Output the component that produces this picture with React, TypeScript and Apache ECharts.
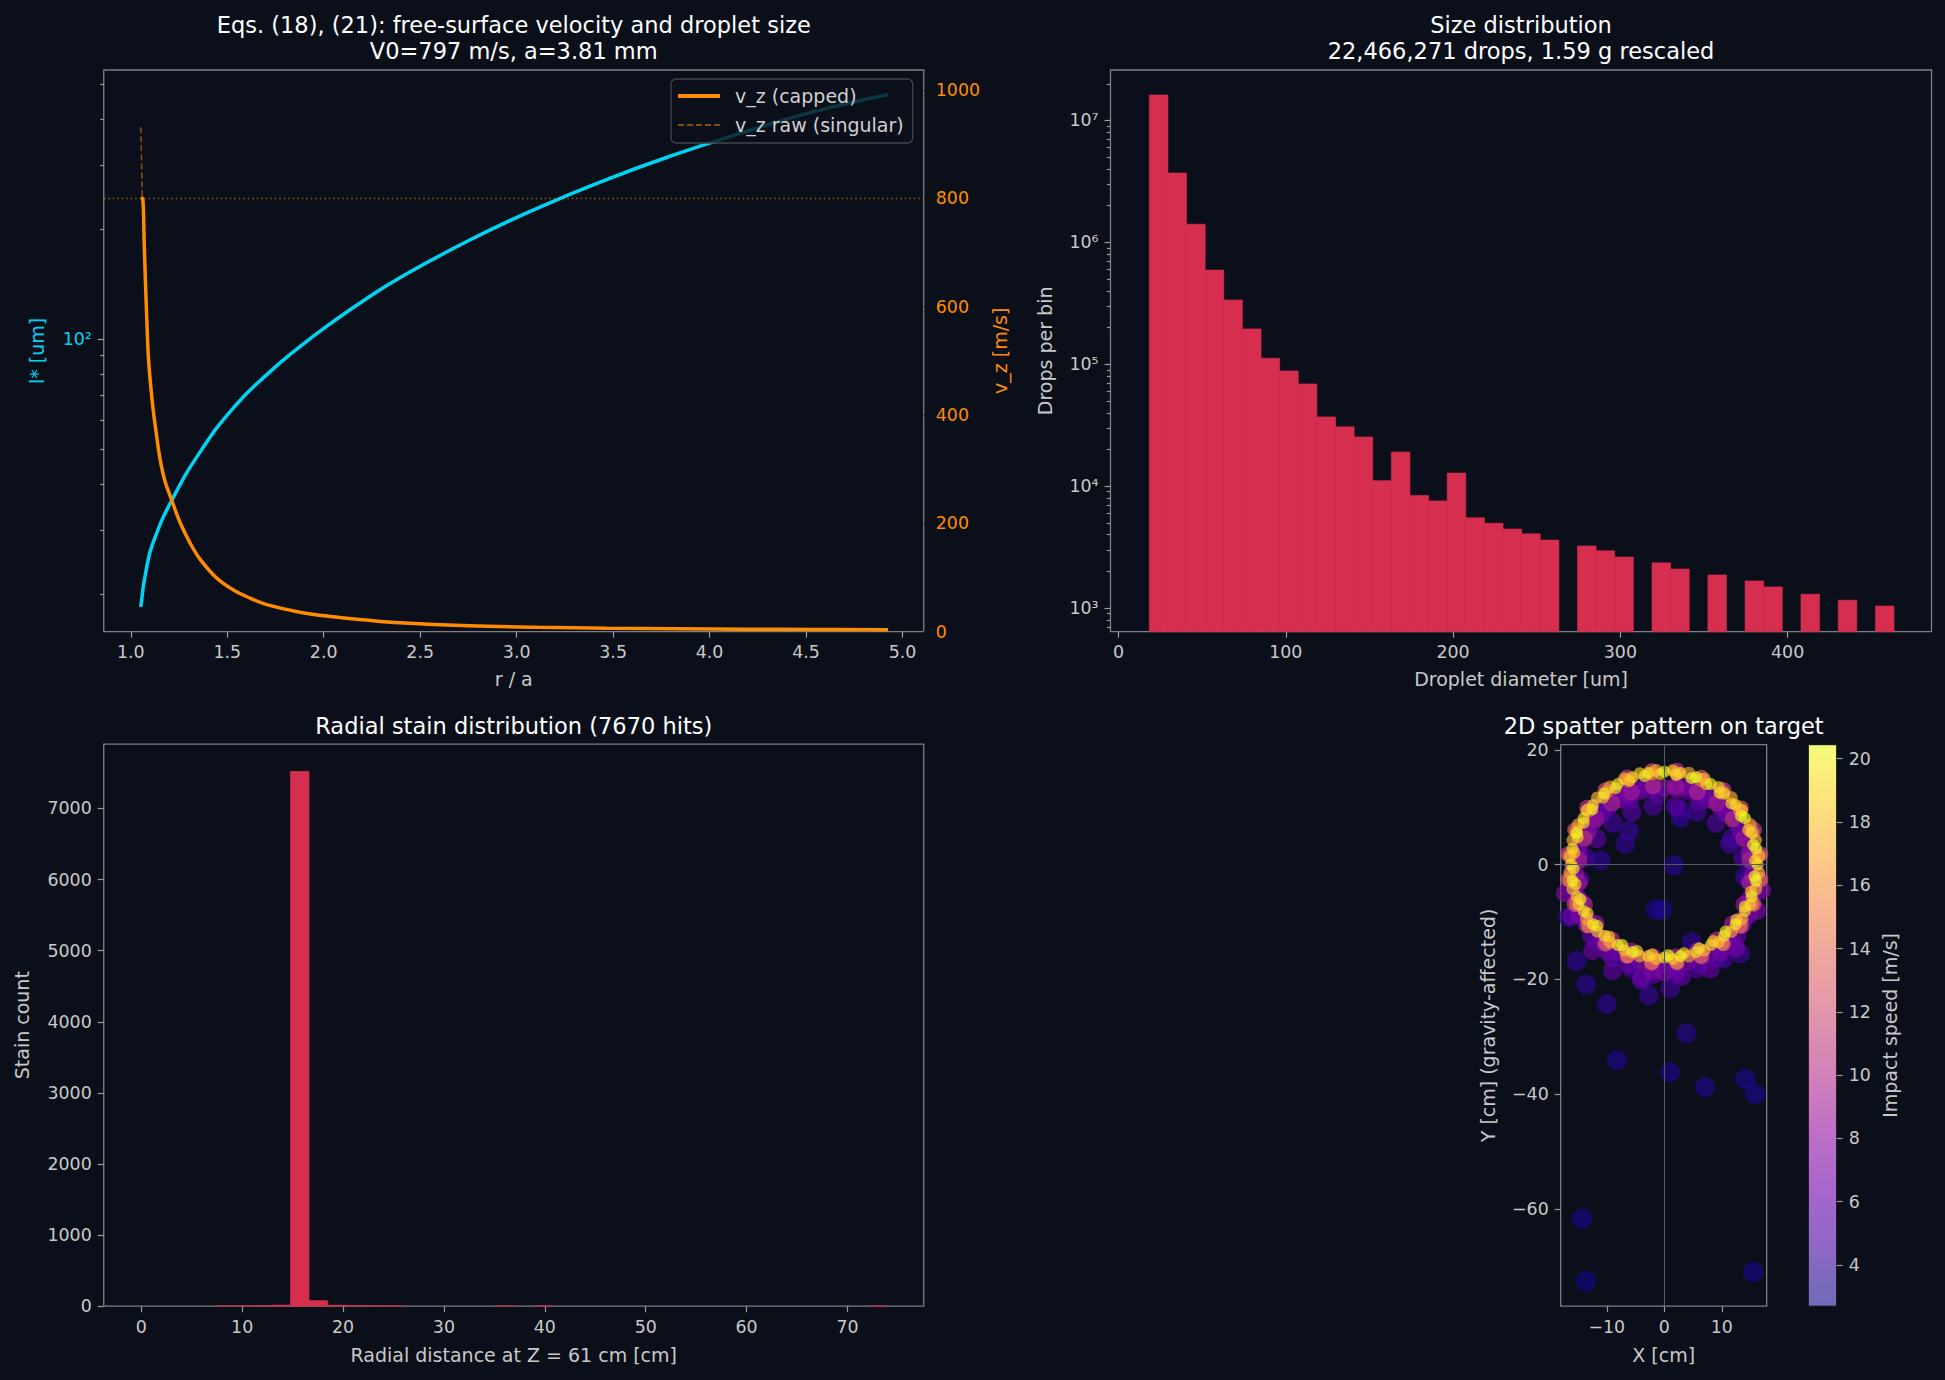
import React, { useEffect, useRef } from "react";
import * as echarts from "echarts";

// ---------------- Panel 1: Eqs. (18), (21) ----------------
const LSTAR_R_OVER_A = [1.052, 1.083, 1.126, 1.212, 1.359, 1.532, 1.705, 1.877, 2.05, 2.223, 2.395, 2.752, 3.109, 3.466, 3.823, 4.18, 4.536, 4.925];
const LSTAR_UM = [18.45, 23.8, 28.6, 36.1, 49.0, 64.8, 79.9, 95.3, 111.7, 129.1, 147.2, 186.2, 228.5, 273.5, 320.6, 369, 419.3, 467.7];
const VZ_R_OVER_A = [1.052, 1.06, 1.071, 1.076, 1.083, 1.091, 1.103, 1.117, 1.135, 1.152, 1.178, 1.212, 1.255, 1.307, 1.359, 1.445, 1.532, 1.618, 1.705, 1.877, 2.05, 2.223, 2.395, 2.752, 3.109, 3.466, 3.823, 4.18, 4.536, 4.925];
const VZ_CAPPED = [800, 800, 701, 646, 578, 509, 455, 407, 359, 318, 277, 243, 202, 164, 134, 99, 77, 62, 50, 36, 27.5, 21.4, 16.6, 11, 8, 6.5, 5.5, 4.7, 4.1, 3.6];
const VZ_RAW = [931, 800, 701, 646, 578, 509, 455, 407, 359, 318, 277, 243, 202, 164, 134, 99, 77, 62, 50, 36, 27.5, 21.4, 16.6, 11, 8, 6.5, 5.5, 4.7, 4.1, 3.6];
const VZ_CAP_LEVEL = 800;
const P1_X_TICKS = [1.0, 1.5, 2.0, 2.5, 3.0, 3.5, 4.0, 4.5, 5.0];
const P1_VZ_TICKS = [0, 200, 400, 600, 800, 1000];
const P1_LSTAR_MAJOR = [100];
const P1_LSTAR_MINOR = [20, 30, 40, 50, 60, 70, 80, 90, 200, 300, 400, 500];

// ---------------- Panel 2: size distribution ----------------
const DIAM_MIN = 18.4;
const DIAM_MAX = 463.6;
const DROPS_PER_BIN = [
  1.62e7, 3.7e6, 1.41e6, 5.93e5, 3.37e5, 1.95e5, 1.12e5, 8.81e4, 6.9e4, 3.7e4,
  3.07e4, 2.53e4, 1.11e4, 1.91e4, 8.38e3, 7.57e3, 1.28e4, 5.5e3, 4.97e3, 4.45e3,
  4.06e3, 3.61e3, 0, 3.23e3, 2.95e3, 2.62e3, 0, 2.35e3, 2.09e3, 0,
  1.87e3, 0, 1.67e3, 1.49e3, 0, 1.3e3, 0, 1.16e3, 0, 1.04e3,
];
const P2_X_TICKS = [0, 100, 200, 300, 400];
const P2_Y_MAJOR = [1e3, 1e4, 1e5, 1e6, 1e7];

// ---------------- Panel 3: radial stain distribution ----------------
const RADIAL_MIN = 0;
const RADIAL_MAX = 73.9;
const STAIN_COUNTS = [
  0, 0, 0, 0, 3, 5, 8, 16, 7522, 79,
  14, 9, 6, 4, 0, 0, 0, 0, 0, 1,
  0, 2, 0, 0, 0, 0, 0, 0, 0, 0,
  0, 0, 0, 0, 0, 0, 0, 0, 0, 1,
];
const P3_X_TICKS = [0, 10, 20, 30, 40, 50, 60, 70];
const P3_Y_TICKS = [0, 1000, 2000, 3000, 4000, 5000, 6000, 7000];

// ---------------- Panel 4: 2D spatter pattern [x cm, y cm, impact speed m/s] ----------------
const OUTLIERS = [
  [-14.26, -61.7, 3.1], [-13.62, -72.6, 2.7], [15.48, -71.0, 3.1], [14.09, -37.4, 3.3], [15.83, -40.0, 3.2],
  [7.07, -38.8, 3.3], [1.04, -36.2, 3.4], [-8.24, -34.1, 3.4], [3.83, -29.4, 3.6], [-10.0, -24.3, 3.9],
  [-2.7, -22.8, 4.2], [-13.57, -20.9, 3.8], [-15.25, -16.8, 3.9], [-1.5, -7.85, 3.2], [-0.4, -7.85, 3.3],
  [1.62, -0.15, 3.6], [-11.07, 0.75, 3.9], [-6.78, 3.6, 4.0], [-6.14, 5.9, 4.1], [2.85, 8.15, 4.0],
  [2.7, 9.6, 4.2], [-16.7, -9.2, 3.8], [4.75, -13.5, 3.9], [14.03, -2.1, 4.2], [11.4, 3.6, 4.4],
  [-3.9, -20.2, 4.6], [1.0, -21.6, 4.5], [10.3, -16.4, 4.8], [13.2, -15.5, 4.6],
];
const DARK_HALO = [
  [14.67, -2.56, 4.8], [13.67, 1.17, 5.3], [11.74, 4.51, 4.6], [9.01, 7.24, 5.1], [5.67, 9.17, 4.4], [1.94, 10.17, 5.5],
  [-1.94, 10.17, 4.9], [-5.67, 9.17, 5.2], [-9.01, 7.24, 4.5], [-11.74, 4.51, 5.4], [-13.67, 1.17, 4.7], [-14.67, -2.56, 5.0],
  [-14.67, -6.44, 4.6], [-13.67, -10.17, 5.3], [-11.74, -13.51, 4.4], [-9.01, -16.24, 5.1], [-5.67, -18.17, 4.8], [-1.94, -19.17, 5.4],
  [1.94, -19.17, 4.5], [5.67, -18.17, 5.0], [9.01, -16.24, 4.7], [11.74, -13.51, 5.3], [13.67, -10.17, 4.6], [14.67, -6.44, 5.2],
];
const PURPLE_HALO = [
  [15.4, -2, 7.8], [14.88, 1.99, 8.4], [13.34, 5.7, 7.1], [10.89, 8.89, 6.6], [7.7, 11.34, 7.4], [3.99, 12.88, 6.2],
  [0, 13.4, 8.1], [-3.99, 12.88, 6.9], [-7.7, 11.34, 7.6], [-10.89, 8.89, 6.4], [-13.34, 5.7, 8.2], [-14.88, 1.99, 7.3],
  [-15.4, -2, 8.6], [-14.88, -5.99, 7.0], [-13.34, -9.7, 6.5], [-10.89, -12.89, 7.7], [-7.7, -15.34, 6.3], [-3.99, -16.88, 7.9],
  [0, -17.4, 6.8], [3.99, -16.88, 7.2], [7.7, -15.34, 6.1], [10.89, -12.89, 7.5], [13.34, -9.7, 8.0], [14.88, -5.99, 6.7],
  [-8, 12.5, 7.0], [-4, 13.8, 6.5], [4, 13.6, 7.2], [8, 12.2, 6.8], [-11.5, 10, 6.2], [11.5, 9.8, 6.6],
  [-1, 12.2, 5.8], [6, 11, 5.5], [-6, 11.2, 5.4], [-9, -18.5, 6.0], [-4, -19.8, 6.4], [3, -19.5, 6.1],
  [8, -18.2, 6.3], [12.5, -14.5, 6.8], [-12.5, -15, 6.5], [0, -18.8, 7.0], [-17.3, -5, 7.5], [17.0, -4.5, 7.2],
  [16.2, -8, 6.9], [-16.2, -9, 6.7],
];
const PURPLE_BAND = [
  [15.86, -0.51, 6.4], [14.78, 3.52, 7.0], [12.69, 7.14, 5.9], [9.74, 10.09, 6.7], [6.12, 12.18, 6.1], [2.09, 13.26, 7.3],
  [-2.09, 13.26, 6.0], [-6.12, 12.18, 6.8], [-9.74, 10.09, 5.8], [-12.69, 7.14, 7.1], [-14.78, 3.52, 6.3], [-15.86, -0.51, 6.9],
  [-15.86, -4.69, 6.2], [-14.78, -8.72, 7.2], [-12.69, -12.34, 5.9], [-9.74, -15.29, 6.6], [-6.12, -17.38, 6.1], [-2.09, -18.46, 7.0],
  [2.09, -18.46, 6.4], [6.12, -17.38, 5.8], [9.74, -15.29, 6.9], [12.69, -12.34, 6.2], [14.78, -8.72, 7.1], [15.86, -4.69, 6.5],
];
const MAGENTA_BAND = [
  [14.87, 0.76, 9.4], [13.86, 4.54, 8.6], [11.9, 7.93, 10.2], [9.13, 10.7, 8.9], [5.74, 12.66, 9.8], [1.96, 13.67, 8.4],
  [-1.96, 13.67, 10.0], [-5.74, 12.66, 8.7], [-9.13, 10.7, 9.5], [-11.9, 7.93, 8.3], [-13.86, 4.54, 10.4], [-14.87, 0.76, 9.1],
  [-14.87, -3.16, 8.8], [-13.86, -6.94, 9.9], [-11.9, -10.33, 8.5], [-9.13, -13.1, 10.1], [-5.74, -15.06, 9.2], [-1.96, -16.07, 8.6],
  [1.96, -16.07, 9.7], [5.74, -15.06, 8.8], [9.13, -13.1, 10.3], [11.9, -10.33, 9.0], [13.86, -6.94, 8.4], [14.87, -3.16, 9.6],
];
const PINK_OUTER = [
  [16.76, 1.81, 12.1], [15.61, 6.07, 10.8], [13.41, 9.89, 13.2], [10.29, 13.01, 11.4], [6.47, 15.21, 12.7], [2.21, 16.36, 10.9],
  [-2.21, 16.36, 13.0], [-6.47, 15.21, 11.2], [-10.29, 13.01, 12.4], [-13.41, 9.89, 10.6], [-15.61, 6.07, 13.4], [-16.76, 1.81, 11.7],
  [-16.76, -2.61, 12.9], [-15.61, -6.87, 11.0], [-13.41, -10.69, 12.2], [-10.29, -13.81, 10.7], [-6.47, -16.01, 13.1], [-2.21, -17.16, 11.5],
  [2.21, -17.16, 12.6], [6.47, -16.01, 10.9], [10.29, -13.81, 13.3], [13.41, -10.69, 11.3], [15.61, -6.87, 12.5], [16.76, -2.61, 11.8],
];
const ORANGE_RING = [
  [16.46, 1.57, 14.2], [15.34, 5.75, 13.1], [13.16, 9.51, 15.0], [10.11, 12.56, 12.8], [6.35, 14.74, 14.6], [2.17, 15.86, 13.5],
  [-2.17, 15.86, 15.2], [-6.35, 14.74, 12.9], [-10.11, 12.56, 14.0], [-13.16, 9.51, 13.3], [-15.34, 5.75, 15.1], [-16.46, 1.57, 12.6],
  [-16.46, -2.77, 14.4], [-15.34, -6.95, 13.2], [-13.16, -10.71, 14.9], [-10.11, -13.76, 12.7], [-6.35, -15.94, 14.3], [-2.17, -17.06, 13.6],
  [2.17, -17.06, 15.3], [6.35, -15.94, 12.9], [10.11, -13.76, 14.1], [13.16, -10.71, 13.4], [15.34, -6.95, 15.0], [16.46, -2.77, 12.8],
];
const YELLOW_OUTER = [
  [16.44, 1.44, 17.2], [15.94, 4.27, 18.1], [14.95, 6.97, 16.6], [13.52, 9.46, 17.8], [11.67, 11.67, 16.9], [9.46, 13.52, 18.3],
  [6.97, 14.95, 17.0], [4.27, 15.94, 16.4], [1.44, 16.44, 17.9], [-1.44, 16.44, 16.8], [-4.27, 15.94, 18.2], [-6.97, 14.95, 17.4],
  [-9.46, 13.52, 16.5], [-11.67, 11.67, 17.7], [-13.52, 9.46, 18.4], [-14.95, 6.97, 16.7], [-15.94, 4.27, 17.5], [-16.44, 1.44, 18.0],
  [-16.44, -1.44, 16.9], [-15.94, -4.27, 17.6], [-14.95, -6.97, 18.3], [-13.52, -9.46, 16.6], [-11.67, -11.67, 17.9], [-9.46, -13.52, 17.1],
  [-6.97, -14.95, 18.2], [-4.27, -15.94, 16.8], [-1.44, -16.44, 17.7], [1.44, -16.44, 18.4], [4.27, -15.94, 16.5], [6.97, -14.95, 17.3],
  [9.46, -13.52, 18.0], [11.67, -11.67, 16.7], [13.52, -9.46, 17.6], [14.95, -6.97, 18.1], [15.94, -4.27, 16.9], [16.44, -1.44, 17.4],
];
const YELLOW_INNER = [
  [15.78, 0.69, 18.8], [15.43, 3.42, 19.6], [14.6, 6.05, 17.9], [13.33, 8.49, 20.0], [11.65, 10.67, 18.4], [9.62, 12.53, 19.3],
  [7.3, 14.01, 18.1], [4.75, 15.07, 20.2], [2.06, 15.66, 19.0], [-0.69, 15.78, 18.6], [-3.42, 15.43, 19.8], [-6.05, 14.6, 18.2],
  [-8.49, 13.33, 19.5], [-10.67, 11.65, 17.8], [-12.53, 9.62, 20.1], [-14.01, 7.3, 18.9], [-15.07, 4.75, 19.2], [-15.66, 2.06, 18.0],
  [-15.78, -0.69, 19.7], [-15.43, -3.42, 18.5], [-14.6, -6.05, 20.3], [-13.33, -8.49, 18.7], [-11.65, -10.67, 19.4], [-9.62, -12.53, 18.3],
  [-7.3, -14.01, 20.0], [-4.75, -15.07, 19.1], [-2.06, -15.66, 18.6], [0.69, -15.78, 20.4], [3.42, -15.43, 18.9], [6.05, -14.6, 19.6],
  [8.49, -13.33, 18.2], [10.67, -11.65, 19.9], [12.53, -9.62, 18.4], [14.01, -7.3, 19.3], [15.07, -4.75, 18.0], [15.66, -2.06, 19.7],
];
const YELLOW_CORE = [
  [16.2, 0, 19.6], [15.95, 2.81, 20.1], [15.22, 5.54, 18.9], [14.03, 8.1, 20.4], [12.41, 10.41, 19.2], [10.41, 12.41, 18.7],
  [8.1, 14.03, 19.9], [5.54, 15.22, 20.2], [2.81, 15.95, 19.0], [0, 16.2, 20.4], [-2.81, 15.95, 19.5], [-5.54, 15.22, 18.8],
  [-8.1, 14.03, 19.7], [-10.41, 12.41, 20.0], [-12.41, 10.41, 18.9], [-14.03, 8.1, 19.4], [-15.22, 5.54, 20.3], [-15.95, 2.81, 19.1],
  [-16.2, 0, 19.8], [-15.95, -2.81, 20.2], [-15.22, -5.54, 18.6], [-14.03, -8.1, 19.5], [-12.41, -10.41, 20.1], [-10.41, -12.41, 19.0],
  [-8.1, -14.03, 19.7], [-5.54, -15.22, 20.4], [-2.81, -15.95, 18.9], [0, -16.2, 19.9], [2.81, -15.95, 20.3], [5.54, -15.22, 19.2],
  [8.1, -14.03, 18.8], [10.41, -12.41, 19.6], [12.41, -10.41, 20.0], [14.03, -8.1, 19.1], [15.22, -5.54, 19.8], [15.95, -2.81, 20.2],
];
const SPEED_MIN = 2.7;
const SPEED_MAX = 20.44;
const P4_X_TICKS = [-10, 0, 10];
const P4_Y_TICKS = [-60, -40, -20, 0, 20];
const CB_TICKS = [4, 6, 8, 10, 12, 14, 16, 18, 20];

// ---------------- styling ----------------
const FONT = "DejaVu Sans";
const BG = "#0b0f1a";
const SPINE = "#7f7f7f";
const TICK = "#9a9a9a";
const LABEL = "#c9c9c9";
const TITLE = "#ffffff";
const CYAN = "#00d4f5";
const ORANGE = "#ff8c00";
const RAW_COLOR = "rgba(255,140,0,0.5)";
const CRIMSON = "#d62e4f";
const PLASMA = ["#0d0887", "#41049d", "#6a00a8", "#8f0da4", "#b12a90", "#cc4778", "#e16462", "#f2844b", "#fca636", "#fcce25", "#f0f921"];
const TICK_FS = 17.4;
const LABEL_FS = 19;
const TITLE_FS = 22.5;

const SUP: Record<string, string> = { "0": "⁰", "1": "¹", "2": "²", "3": "³", "4": "⁴", "5": "⁵", "6": "⁶", "7": "⁷", "8": "⁸", "9": "⁹" };
const powLabel = (v: number) => "10" + String(Math.round(Math.log10(v))).split("").map((c) => SUP[c] || c).join("");
const minusFmt = (v: number) => (v < 0 ? "\u2212" + Math.abs(v) : String(v));
const plainFmt = (v: number) => String(v);

function blendWhite(hex: string, a: number) {
  const r = parseInt(hex.slice(1, 3), 16), g = parseInt(hex.slice(3, 5), 16), b = parseInt(hex.slice(5, 7), 16);
  const m = (c: number) => Math.round(a * c + (1 - a) * 255);
  return `rgb(${m(r)},${m(g)},${m(b)})`;
}

function logMinor(min: number, max: number) {
  const out: number[] = [];
  for (let e = 0; e <= 8; e++) for (let m = 2; m <= 9; m++) {
    const v = m * Math.pow(10, e);
    if (v > min && v < max) out.push(v);
  }
  return out;
}

function axis(o: any) {
  return {
    type: o.type || "value",
    gridIndex: o.gridIndex,
    min: o.min,
    max: o.max,
    position: o.position,
    logBase: o.type === "log" ? 10 : undefined,
    axisLine: { show: false, onZero: false },
    splitLine: { show: false },
    axisTick: { show: true, inside: false, length: o.tickLen || 6, lineStyle: { color: o.tickColor || TICK, width: 1.2 }, customValues: o.ticks },
    axisLabel: o.noLabels
      ? { show: false }
      : { show: true, customValues: o.ticks, color: o.color || LABEL, fontFamily: FONT, fontSize: TICK_FS, margin: o.margin || 12, formatter: o.formatter || plainFmt },
    name: o.name,
    nameLocation: "middle",
    nameGap: o.nameGap,
    nameTextStyle: { color: o.nameColor || LABEL, fontFamily: FONT, fontSize: LABEL_FS },
  };
}

function histRender(color: string, floor: number) {
  return (params: any, api: any) => {
    const x0 = api.value(0), x1 = api.value(1), v = api.value(2);
    if (!v) return null;
    const tl = api.coord([x0, v]);
    const br = api.coord([x1, floor]);
    return {
      type: "rect",
      shape: { x: tl[0], y: tl[1], width: br[0] - tl[0], height: br[1] - tl[1] },
      style: { fill: color, stroke: color, lineWidth: 0.6 },
    };
  };
}

function binData(counts: number[], lo: number, hi: number) {
  const w = (hi - lo) / counts.length;
  return counts.map((c, i) => [lo + i * w, lo + (i + 1) * w, c]);
}

const P1_LMIN = 15.78, P1_LMAX = 546, P1_VMAX = 1036.6;
const P2_YMIN = 639.7, P2_YMAX = 2.594e7;

function buildOption() {
  const cbGradient = new echarts.graphic.LinearGradient(0, 1, 0, 0,
    PLASMA.map((c, i) => ({ offset: i / (PLASMA.length - 1), color: blendWhite(c, 0.6) })));
  const spatter = [
    ...OUTLIERS, ...DARK_HALO, ...PURPLE_HALO, ...PURPLE_BAND, ...MAGENTA_BAND,
    ...PINK_OUTER, ...ORANGE_RING, ...YELLOW_OUTER, ...YELLOW_INNER, ...YELLOW_CORE,
  ];
  const gridBox = { show: true, borderColor: SPINE, borderWidth: 1.3, backgroundColor: "transparent" };
  return {
    animation: false,
    backgroundColor: BG,
    grid: [
      { ...gridBox, left: 103.75, top: 70, width: 820, height: 561.7 },
      { ...gridBox, left: 1110.5, top: 70, width: 821, height: 561.7 },
      { ...gridBox, left: 103.75, top: 744.2, width: 820, height: 562 },
      { ...gridBox, left: 1560.7, top: 744.7, width: 206, height: 561.5 },
      { show: true, left: 1808.3, top: 744.7, width: 28.4, height: 561.5, backgroundColor: cbGradient, borderColor: "#111111", borderWidth: 1 },
    ],
    xAxis: [
      axis({ gridIndex: 0, min: 0.86, max: 5.11, ticks: P1_X_TICKS, formatter: (v: number) => v.toFixed(1), name: "r / a", nameGap: 38 }),
      axis({ gridIndex: 1, min: -4.8, max: 486, ticks: P2_X_TICKS, name: "Droplet diameter [um]", nameGap: 38 }),
      axis({ gridIndex: 2, min: -3.72, max: 77.56, ticks: P3_X_TICKS, name: "Radial distance at Z = 61 cm [cm]", nameGap: 39 }),
      axis({ gridIndex: 3, min: -18.02, max: 17.81, ticks: P4_X_TICKS, formatter: minusFmt, name: "X [cm]", nameGap: 39 }),
      { type: "value", gridIndex: 4, min: 0, max: 1, show: false },
    ],
    yAxis: [
      axis({ type: "log", gridIndex: 0, position: "left", min: P1_LMIN, max: P1_LMAX, ticks: P1_LSTAR_MAJOR, formatter: powLabel, color: CYAN, name: "l* [um]", nameGap: 57, nameColor: CYAN }),
      axis({ gridIndex: 0, position: "right", min: 0, max: P1_VMAX, ticks: P1_VZ_TICKS, color: ORANGE, tickColor: "#111111", name: "v_z [m/s]", nameGap: 67, nameColor: ORANGE }),
      axis({ type: "log", gridIndex: 0, position: "left", min: P1_LMIN, max: P1_LMAX, ticks: P1_LSTAR_MINOR, tickLen: 3.5, noLabels: true }),
      axis({ type: "log", gridIndex: 1, position: "left", min: P2_YMIN, max: P2_YMAX, ticks: P2_Y_MAJOR, formatter: powLabel, name: "Drops per bin", nameGap: 56 }),
      axis({ type: "log", gridIndex: 1, position: "left", min: P2_YMIN, max: P2_YMAX, ticks: logMinor(P2_YMIN, P2_YMAX), tickLen: 3.5, noLabels: true }),
      axis({ gridIndex: 2, position: "left", min: 0, max: 7904, ticks: P3_Y_TICKS, name: "Stain count", nameGap: 72 }),
      axis({ gridIndex: 3, position: "left", min: -76.97, max: 20.9, ticks: P4_Y_TICKS, formatter: minusFmt, name: "Y [cm] (gravity-affected)", nameGap: 63 }),
      axis({ gridIndex: 4, position: "right", min: SPEED_MIN, max: SPEED_MAX, ticks: CB_TICKS, name: "Impact speed [m/s]", nameGap: 44 }),
    ],
    legend: {
      data: [
        { name: "v_z (capped)", lineStyle: { color: ORANGE, width: 4 } },
        { name: "v_z raw (singular)", lineStyle: { color: RAW_COLOR, width: 1.8, type: [6, 3] } },
      ],
      orient: "vertical",
      left: 671,
      top: 79,
      padding: [7, 9, 8, 5],
      itemWidth: 42,
      itemHeight: 14,
      itemGap: 9,
      selectedMode: false,
      backgroundColor: "rgba(11,15,26,0.8)",
      borderColor: "#41454d",
      borderWidth: 1.3,
      borderRadius: 5,
      itemStyle: { opacity: 0 },
      textStyle: { color: "#d0d0d0", fontFamily: FONT, fontSize: LABEL_FS, lineHeight: 20, padding: [0, 0, 0, 10] },
    },
    visualMap: [
      { type: "continuous", show: false, seriesIndex: 5, dimension: 2, min: SPEED_MIN, max: SPEED_MAX, inRange: { color: PLASMA } },
    ],
    series: [
      {
        name: "l*", type: "line", xAxisIndex: 0, yAxisIndex: 0, symbol: "none", smooth: 0.5,
        data: LSTAR_R_OVER_A.map((x, i) => [x, LSTAR_UM[i]]),
        lineStyle: { color: CYAN, width: 3.5 }, itemStyle: { color: CYAN }, z: 2,
      },
      {
        name: "v_z raw (singular)", type: "line", xAxisIndex: 0, yAxisIndex: 1, symbol: "none",
        data: VZ_R_OVER_A.map((x, i) => [x, VZ_RAW[i]]),
        lineStyle: { color: RAW_COLOR, width: 1.6, type: [6, 3] }, itemStyle: { color: RAW_COLOR }, z: 3,
      },
      {
        name: "v_z (capped)", type: "line", xAxisIndex: 0, yAxisIndex: 1, symbol: "none", smooth: 0.4,
        data: VZ_R_OVER_A.map((x, i) => [x, VZ_CAPPED[i]]),
        lineStyle: { color: ORANGE, width: 3.5 }, itemStyle: { color: ORANGE }, z: 4,
        markLine: {
          silent: true, symbol: ["none", "none"], label: { show: false },
          lineStyle: { color: "rgba(255,165,0,0.55)", width: 1.3, type: [1.5, 3] },
          data: [{ yAxis: VZ_CAP_LEVEL }],
        },
      },
      {
        name: "drops", type: "custom", xAxisIndex: 1, yAxisIndex: 3,
        dimensions: ["x0", "x1", "count"], encode: { x: [0, 1], y: 2 },
        data: binData(DROPS_PER_BIN, DIAM_MIN, DIAM_MAX),
        renderItem: histRender(CRIMSON, P2_YMIN),
      },
      {
        name: "stains", type: "custom", xAxisIndex: 2, yAxisIndex: 5,
        dimensions: ["x0", "x1", "count"], encode: { x: [0, 1], y: 2 },
        data: binData(STAIN_COUNTS, RADIAL_MIN, RADIAL_MAX),
        renderItem: histRender(CRIMSON, 0),
      },
      {
        name: "spatter", type: "scatter", xAxisIndex: 3, yAxisIndex: 6,
        data: spatter,
        symbolSize: (v: number[]) => Math.max(12, 22 - 0.55 * v[2]),
        itemStyle: { opacity: 0.66 },
        markLine: {
          silent: true, symbol: ["none", "none"], label: { show: false },
          lineStyle: { color: "#555a62", width: 1, type: "solid", opacity: 1 },
          data: [{ xAxis: 0 }, { yAxis: 0 }],
        },
      },
    ],
    graphic: [
      { type: "text", x: 513.75, y: 37.75, silent: true, style: { text: "Eqs. (18), (21): free-surface velocity and droplet size\nV0=797 m/s, a=3.81 mm", fill: TITLE, fontFamily: FONT, fontSize: TITLE_FS, lineHeight: 26.5, align: "center", verticalAlign: "middle" } },
      { type: "text", x: 1521, y: 37.75, silent: true, style: { text: "Size distribution\n22,466,271 drops, 1.59 g rescaled", fill: TITLE, fontFamily: FONT, fontSize: TITLE_FS, lineHeight: 26.5, align: "center", verticalAlign: "middle" } },
      { type: "text", x: 513.75, y: 726, silent: true, style: { text: "Radial stain distribution (7670 hits)", fill: TITLE, fontFamily: FONT, fontSize: TITLE_FS, align: "center", verticalAlign: "middle" } },
      { type: "text", x: 1663.7, y: 726, silent: true, style: { text: "2D spatter pattern on target", fill: TITLE, fontFamily: FONT, fontSize: TITLE_FS, align: "center", verticalAlign: "middle" } },
    ],
  };
}

export default function App() {
  const ref = useRef<HTMLDivElement>(null);
  useEffect(() => {
    if (!ref.current) return;
    const chart = echarts.init(ref.current, null, { renderer: "svg" });
    chart.setOption(buildOption() as any);
    return () => chart.dispose();
  }, []);
  return <div ref={ref} style={{ position: "absolute", left: 0, top: 0, width: 1945, height: 1380, background: BG }} />;
}
